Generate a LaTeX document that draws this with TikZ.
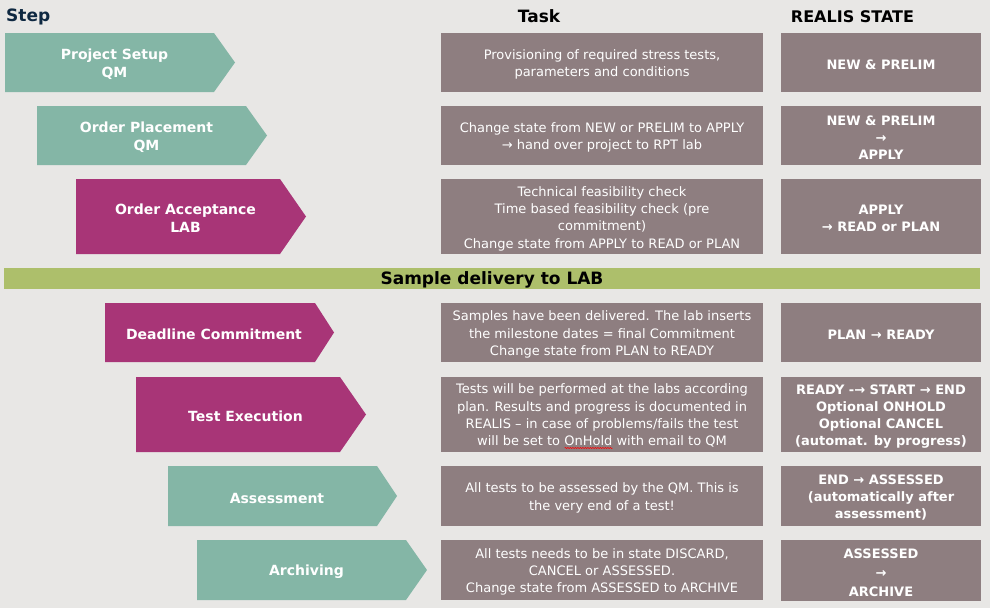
\documentclass[tikz,border=0pt]{standalone}
\usepackage{fontspec}
\setmainfont{DejaVu Sans}
\usetikzlibrary{decorations.pathmorphing}
\definecolor{bgc}{HTML}{E8E7E5}
\definecolor{tealc}{HTML}{84B6A6}
\definecolor{magc}{HTML}{A83577}
\definecolor{taupec}{HTML}{8E7E80}
\definecolor{greenc}{HTML}{ADBF6B}
\definecolor{navyc}{HTML}{0E2841}
\newsavebox\wavebox
\newcommand\redwave[1]{\sbox\wavebox{#1}\leavevmode\rlap{\raisebox{-3pt}{\tikz[x=1pt,y=1pt]\draw[red,line width=0.5pt,decorate,decoration={snake,amplitude=0.6pt,segment length=2.5pt}] (0,0) -- (\wd\wavebox,0);}}\usebox\wavebox}
\newcommand\mychev[8]{%
  \fill[#7] (#2,#5) -- (#3,#5) -- (#4,{(#5+#6)/2}) -- (#3,#6) -- (#2,#6) -- cycle;
  \node[chevtext] (#1) at ({(#2+#4)/2-5.5},{(#5+#6)/2+2}) {#8};}
% box: name, cx, cy, width, height, text style, text
\newcommand\mybox[7]{%
  \node[boxfill,minimum width=#4pt,minimum height=#5pt] (#1) at (#2,#3) {};
  \node[#6] (#1txt) at ([yshift=-2pt]#1.center) {#7};}
\begin{document}
\begin{tikzpicture}[x=1pt,y=-1pt,
  chevtext/.style={text=white,font=\bfseries\fontsize{14}{18}\selectfont,align=center,inner sep=0pt},
  boxfill/.style={fill=taupec,inner sep=0pt},
  tasktext/.style={text=white,font=\fontsize{13}{17.3}\selectfont,align=center,inner sep=0pt},
  statetext/.style={text=white,font=\bfseries\fontsize{13}{17}\selectfont,align=center,inner sep=0pt},
  header/.style={font=\bfseries\fontsize{17}{20}\selectfont,inner sep=0pt}]
\fill[bgc] (0,0) rectangle (990,608);
\useasboundingbox (0,0) rectangle (990,608);
% headers
\node[header,text=navyc,anchor=west] (hstep) at (6,16.5) {Step};
\node[header] (htask) at (539,16.5) {Task};
\node[header,font=\bfseries\fontsize{16}{20}\selectfont] (hstate) at (852.5,16.5) {REALIS STATE};
% chevrons
\mychev{c1}{5}{214}{235}{33}{92}{tealc}{Project Setup\\QM}
\mychev{c2}{37}{246}{267}{106}{165}{tealc}{Order Placement\\QM}
\mychev{c3}{76}{280}{306}{179}{254}{magc}{Order Acceptance\\LAB}
\mychev{c4}{105}{315}{334}{303}{362}{magc}{Deadline Commitment}
\mychev{c5}{136}{340}{366}{377}{452}{magc}{Test Execution}
\mychev{c6}{168}{377}{397}{466}{526}{tealc}{Assessment}
\mychev{c7}{197}{406}{427}{540}{600}{tealc}{Archiving}
% green bar
\node[fill=greenc,minimum width=976pt,minimum height=21pt,inner sep=0pt] (bar) at (492,278.5) {};
\node[inner sep=0pt,font=\bfseries\fontsize{17}{20}\selectfont] (bartxt) at ([yshift=-1pt]bar.center) {Sample delivery to LAB};
% task boxes
\mybox{t1}{602}{62.5}{322}{59}{tasktext}{Provisioning of required stress tests,\\parameters and conditions}
\mybox{t2}{602}{135.5}{322}{59}{tasktext}{Change state from NEW or PRELIM to APPLY\\→ hand over project to RPT lab}
\mybox{t3}{602}{216.5}{322}{75}{tasktext}{Technical feasibility check\\Time based feasibility check (pre\\commitment)\\Change state from APPLY to READ or PLAN}
\mybox{t4}{602}{332.5}{322}{59}{tasktext}{Samples have been delivered. The lab inserts\\the milestone dates = final Commitment\\Change state from PLAN to READY}
\mybox{t5}{602}{414.5}{322}{75}{tasktext}{Tests will be performed at the labs according\\plan. Results and progress is documented in\\REALIS – in case of problems/fails the test\\will be set to \redwave{OnHold} with email to QM}
\mybox{t6}{602}{496}{322}{60}{tasktext}{All tests to be assessed by the QM. This is\\the very end of a test!}
\mybox{t7}{602}{570}{322}{60}{tasktext}{All tests needs to be in state DISCARD,\\CANCEL or ASSESSED.\\Change state from ASSESSED to ARCHIVE}
% state boxes
\mybox{s1}{881}{62.5}{200}{59}{statetext}{NEW \& PRELIM}
\mybox{s2}{881}{135.5}{200}{59}{statetext}{NEW \& PRELIM\\→\\APPLY}
\mybox{s3}{881}{216.5}{200}{75}{statetext}{APPLY\\→ READ or PLAN}
\mybox{s4}{881}{332.5}{200}{59}{statetext}{PLAN → READY}
\mybox{s5}{881}{414.5}{200}{75}{statetext}{READY -→ START → END\\Optional ONHOLD\\Optional CANCEL\\(automat. by progress)}
\mybox{s6}{881}{496}{200}{60}{statetext}{END → ASSESSED\\(automatically after\\assessment)}
\mybox{s7}{881}{570.5}{200}{61}{statetext,font=\bfseries\fontsize{13}{19}\selectfont}{ASSESSED\\→\\ARCHIVE}
\end{tikzpicture}
\end{document}
